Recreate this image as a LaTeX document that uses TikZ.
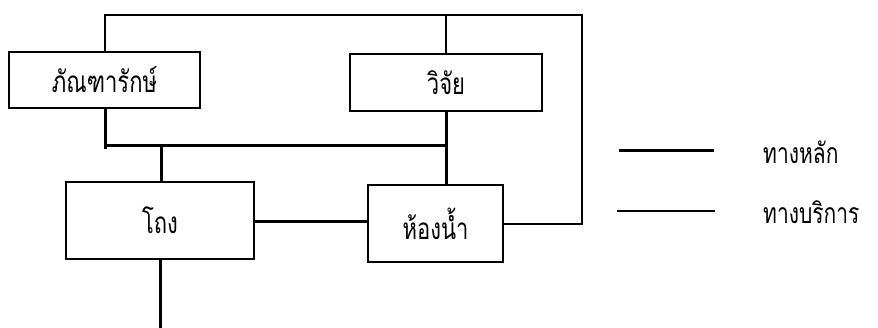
\documentclass[tikz,border=0pt]{standalone}
\usepackage{fontspec}
\newfontfamily\thaifont[Script=Thai]{Loma}
\newcommand{\tallthai}[1]{\scalebox{1}[1.35]{#1}}
\tikzset{
  room/.style={draw, line width=1.4pt, rectangle, minimum width=#1, inner sep=0pt, font=\thaifont\fontsize{22}{26}\selectfont},
  mainway/.style={line width=3pt},
  serviceway/.style={line width=1.4pt},
  legendtext/.style={anchor=west, inner sep=0pt, font=\thaifont\fontsize{21}{26}\selectfont}
}
\begin{document}
\begin{tikzpicture}[x=1pt,y=-1pt]
\useasboundingbox (0,0) rectangle (878,328);
\node[room=191pt, minimum height=56pt] (bhan) at (104.5,80) {\tallthai{ภัณฑารักษ์}};
\node[room=192pt, minimum height=57pt] (wijai) at (446,82.5) {\tallthai{วิจัย}};
\node[room=188pt, minimum height=77pt] (thong) at (160,220.5) {\tallthai{โถง}};
\node[room=135pt, minimum height=77pt] (hong) at (435.5,223.5) {\tallthai{ห้องน้ำ}};
% corners
\coordinate (tl) at (105,15);
\coordinate (tr) at (582,15);
\coordinate (br) at (582,224);
\coordinate (busl) at (105,146);
\coordinate (busr) at (446,146);
\coordinate (busm) at (161,146);
\coordinate (exit) at (160,328);
% service ways
\draw[serviceway] (bhan.north -| tl) -- (tl) -- (tr) -- (br) -- (hong.east |- br);
\draw[serviceway] (wijai.north) -- (wijai.north |- tl);
% main ways
\draw[mainway] (bhan.south -| busl) -- (105,149);
\draw[mainway] (busl) -- (busr);
\draw[mainway] (wijai.south) -- (hong.north -| wijai.south);
\draw[mainway] (busm) -- (thong.north -| busm);
\draw[mainway] (thong.south) -- (exit);
\draw[mainway] (thong.east |- 0,222) -- (hong.west |- 0,222);
% legend
\coordinate (l1a) at (619,151);
\coordinate (l1b) at (714,151);
\coordinate (l2a) at (617,211);
\coordinate (l2b) at (715,211);
\draw[mainway] (l1a) -- (l1b);
\draw[serviceway] (l2a) -- (l2b);
\node[legendtext] (lab1) at (763,152) {\tallthai{ทางหลัก}};
\node[legendtext] (lab2) at (763,212) {\tallthai{ทางบริการ}};
\end{tikzpicture}
\end{document}
